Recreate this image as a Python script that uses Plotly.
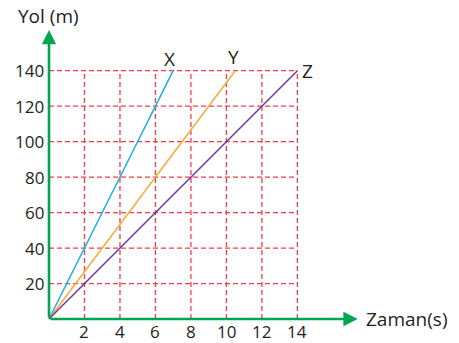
import plotly.graph_objects as go

# Time (s) and distance (m) for the three movers
time_ticks = [2, 4, 6, 8, 10, 12, 14]
dist_ticks = [20, 40, 60, 80, 100, 120, 140]

names = ["X", "Y", "Z"]
end_times = [7, 10.5, 14]
end_dists = [140, 140, 140]
colors = ["#1cb0e6", "#f9a93b", "#6b3a9a"]

INK = "#231f20"
GREEN = "#00a651"
GRID = "#ee3e4a"
FONT = "Open Sans, Lato, sans-serif"

fig = go.Figure()

# dashed grid, limited to the 0..14 x 0..140 rectangle
for t in time_ticks:
    fig.add_trace(go.Scatter(x=[t, t], y=[0, max(dist_ticks)], mode="lines",
                             line=dict(color=GRID, width=1.3, dash="5px,3px"),
                             hoverinfo="skip", showlegend=False))
for d in dist_ticks:
    fig.add_trace(go.Scatter(x=[0, max(time_ticks)], y=[d, d], mode="lines",
                             line=dict(color=GRID, width=1.3, dash="5px,3px"),
                             hoverinfo="skip", showlegend=False))

# distance-time lines
for n, te, de, c in zip(names, end_times, end_dists, colors):
    fig.add_trace(go.Scatter(x=[0, te], y=[0, de], mode="lines",
                             line=dict(color=c, width=1.5),
                             name=n, showlegend=False))

annotations = []
# axes with arrowheads
annotations.append(dict(x=17.4, y=0, ax=0, ay=0, xref="x", yref="y", axref="x", ayref="y",
                        showarrow=True, arrowhead=2, arrowsize=1.1, arrowwidth=2.6,
                        arrowcolor=GREEN, text=""))
annotations.append(dict(x=0, y=163, ax=0, ay=0, xref="x", yref="y", axref="x", ayref="y",
                        showarrow=True, arrowhead=2, arrowsize=1.1, arrowwidth=2.6,
                        arrowcolor=GREEN, text=""))

# tick labels
for t in time_ticks:
    annotations.append(dict(x=t, y=-6.8, xref="x", yref="y", text=str(t), showarrow=False,
                            yanchor="middle", font=dict(size=17, color=INK, family=FONT)))
for d in dist_ticks:
    annotations.append(dict(x=0, y=d, xref="x", yref="y", text=str(d), showarrow=False,
                            xanchor="right", xshift=-3, font=dict(size=17, color=INK, family=FONT)))

# axis titles
annotations.append(dict(x=17.75, y=0, xref="x", yref="y", text="Zaman(s)", showarrow=False,
                        xanchor="left", font=dict(size=19, color=INK, family=FONT)))
annotations.append(dict(x=-1.85, y=171, xref="x", yref="y", text="Yol (m)", showarrow=False,
                        xanchor="left", font=dict(size=19, color=INK, family=FONT)))

# line names
annotations.append(dict(x=end_times[0], y=end_dists[0], xref="x", yref="y", text=names[0],
                        showarrow=False, yanchor="bottom", xshift=-4, yshift=-3,
                        font=dict(size=19, color=INK, family=FONT)))
annotations.append(dict(x=end_times[1], y=end_dists[1], xref="x", yref="y", text=names[1],
                        showarrow=False, yanchor="bottom", xshift=-2, yshift=-1,
                        font=dict(size=19, color=INK, family=FONT)))
annotations.append(dict(x=end_times[2], y=end_dists[2], xref="x", yref="y", text=names[2],
                        showarrow=False, xanchor="left", xshift=3,
                        font=dict(size=19, color=INK, family=FONT)))

fig.update_layout(
    width=459, height=343,
    margin=dict(l=0, r=0, t=0, b=0),
    paper_bgcolor="white", plot_bgcolor="white",
    xaxis=dict(range=[-2.762, 23.11], visible=False, fixedrange=True),
    yaxis=dict(range=[-13.53, 179.86], visible=False, fixedrange=True),
    annotations=annotations,
)

fig.write_html("out.html")
